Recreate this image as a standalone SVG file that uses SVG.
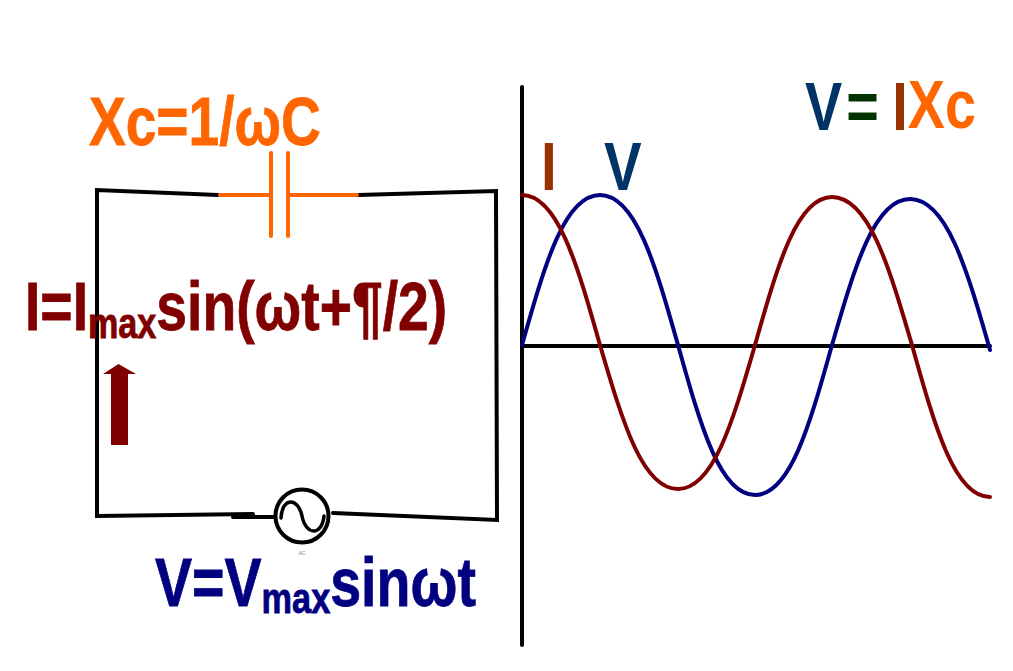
<svg xmlns="http://www.w3.org/2000/svg" width="1013" height="671" viewBox="0 0 1013 671">
<style>
text{font-family:"Liberation Sans",Arial,sans-serif;font-weight:700;stroke-width:.8;paint-order:stroke}
.w{fill:none;stroke:#000;stroke-width:4;stroke-linecap:round;stroke-linejoin:miter}
.o{fill:none;stroke:#ff6600;stroke-width:4;stroke-linecap:round}
.c{fill:none;stroke-width:4;stroke-linecap:round}
.big{font-size:68px}
.sub{font-size:42px}
.r{fill:#800000;stroke:#800000}
.n{fill:#000080;stroke:#000080}
.a{fill:#ff6600;stroke:#ff6600}
</style>
<rect width="1013" height="671" fill="#fff"/>
<g id="connectors">
<path class="w" d="M218 195L97 190V516L253 514"/>
<path class="w" d="M358 195L496 191L497 520L333 513"/>
<path class="w" d="M233 517H275"/>
<path class="w" d="M522 87V645"/>
<path class="w" d="M522 346H990"/>
</g>
<g id="capacitor">
<path class="o" d="M220 195H270M271 153V236M288 153V236M288 195H357"/>
</g>
<g id="source">
<circle cx="302" cy="516" r="26.500" fill="#fff" stroke="#000" stroke-width="4"/>
<path d="M281 518C282 497 298 497 302 516C306 536 322 536 324 516" fill="none" stroke="#000" stroke-width="3.500" stroke-linecap="round"/>
<text x="302" y="555" font-size="5" fill="#888" text-anchor="middle" style="font-weight:400;stroke:none">AC</text>
</g>
<g id="current-arrow">
<path d="M111 445V374H103L118.500 364L136 374H128V445Z" fill="#800000"/>
</g>
<g id="curve-v">
<path class="c" stroke="#000080" d="M522 345C545.400 262 564.900 195 600 195C635.100 195 654.600 262 678 345C701.100 428 720.350 495 755 495C789.650 495 808.900 428 832 345C855.400 264 874.900 199 910 199C946 199 966 266 990 350"/>
</g>
<g id="curve-i">
<path class="c" stroke="#800000" d="M522 195C557.100 195 576.600 262 600 345C623.400 425 642.900 489 678 489C712.650 489 731.900 425 755 345C778.100 263 797.350 197 832 197C868 197 888 263 912 345C935.400 429 954.900 497 990 497"/>
</g>
<g id="label-xc">
<text transform="translate(89 145) scale(.81 1)" class="big a">Xc=1/ωC</text>
</g>
<g id="label-i">
<text transform="translate(25 330) scale(.813 1)" class="big r">I=I<tspan class="sub" dy="8">max</tspan><tspan dy="-8">sin(ωt+¶/2)</tspan></text>
</g>
<g id="label-v">
<text transform="translate(155 606) scale(.817 1)" class="big n">V=V<tspan class="sub" dy="7">max</tspan><tspan dy="-7">sinωt</tspan></text>
</g>
<g id="label-wave-i">
<text transform="translate(541 190) scale(.83 1)" class="big" fill="#993300">I</text>
</g>
<g id="label-wave-v">
<text transform="translate(604 190) scale(.83 1)" class="big" fill="#003366">V</text>
</g>
<g id="label-formula">
<text transform="translate(805 130) scale(.82 1)" class="big" fill="#003366">V<tspan dx="5" fill="#003300">=</tspan><tspan dx="16.500" fill="#993300">I</tspan><tspan dy="-2" fill="#ff6600">Xc</tspan></text>
</g>
</svg>
